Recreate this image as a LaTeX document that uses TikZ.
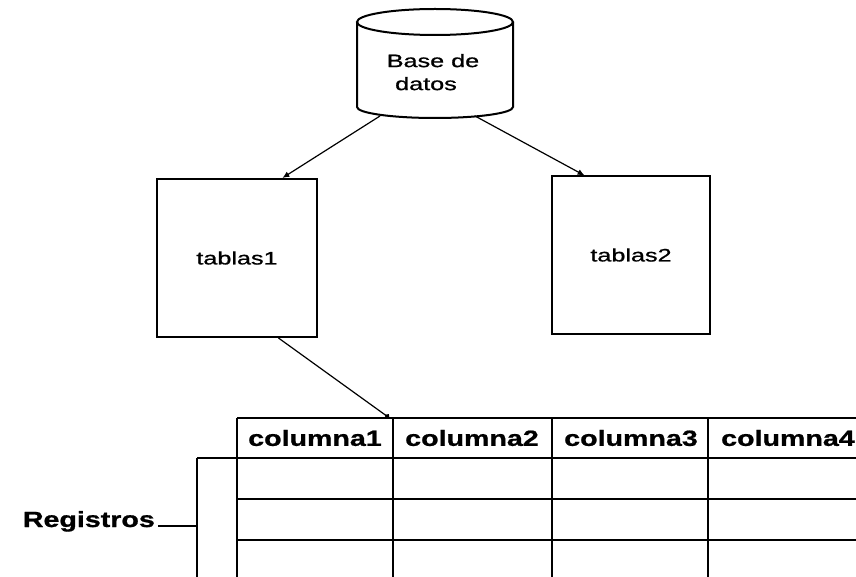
\documentclass[tikz,border=0pt]{standalone}
\usepackage{fontspec}
\setmainfont{Liberation Sans}
\newfontfamily\medfont[FakeBold=0.8]{Liberation Sans}
\newfontfamily\heavyfont[FakeBold=0.8]{Liberation Sans Bold}
\usetikzlibrary{arrows.meta,calc}
\newcommand{\wideR}[1]{\scalebox{1.4}[1]{\medfont #1}}
\newcommand{\wideB}[1]{\scalebox{1.3}[1]{\heavyfont #1}}
\begin{document}
\begin{tikzpicture}[x=1pt,y=-1pt,
  shapeline/.style={line width=2pt},
  box/.style={draw, line width=2pt, minimum width=160pt, minimum height=158pt, inner sep=0pt, font=\fontsize{18}{23}\selectfont},
  conn/.style={line width=1.2pt, -{Latex[length=7pt,width=6pt]}},
  dotconn/.style={line width=1.2pt, -{Circle[length=5pt]}},
  gridline/.style={line width=2pt},
  head/.style={font=\fontsize{22}{26}\selectfont, inner sep=0pt},
  plain/.style={font=\fontsize{18}{23}\selectfont, inner sep=0pt},
]
\clip (0,0) rectangle (856,577);
\fill[white] (0,0) rectangle (856,577);
% database cylinder
\draw[shapeline] (357,22) -- (357,107) arc[start angle=180, end angle=0, x radius=78, y radius=11] -- (513,22);
\draw[shapeline] (435,22) ellipse [x radius=78, y radius=13];
\node[plain, align=left] (db) at (433,74) {\wideR{\begin{tabular}{@{}l@{}}Base de\\\hspace*{6pt}datos\end{tabular}}};
\coordinate (dbL) at (380,116);
\coordinate (dbR) at (475,116);
% tables
\node[box] (t1) at (237,258) {\wideR{tablas1}};
\node[box, minimum width=158pt, minimum height=157pt] (t2) at (631,255) {\wideR{tablas2}};
\draw[conn] (dbL) -- ($(t1.north west)!0.78!(t1.north east)$);
\draw[conn] (dbR) -- ($(t2.north west)!0.21!(t2.north east)$);
% table grid
\draw[gridline] (237,418) -- (860,418);
\draw[gridline] (197,458) -- (860,458);
\draw[gridline] (237,499) -- (860,499);
\draw[gridline] (237,540) -- (860,540);
\foreach \xx in {237,393,552,708} \draw[gridline] (\xx,418) -- (\xx,580);
\draw[gridline] (197,458) -- (197,580);
% headers
\node[head, minimum width=156pt, minimum height=40pt] (c1) at (315,438) {\wideB{columna1}};
\node[head] (c2) at (472,438) {\wideB{columna2}};
\node[head] (c3) at (631,438) {\wideB{columna3}};
\node[head, anchor=west] (c4) at (721,438) {\wideB{columna4}};
\draw[dotconn] ($(t1.south west)!0.756!(t1.south east)$) -- ($(c1.north east)+(-4,0)$);
% registros
\node[head, anchor=base east] (reg) at (155,527) {\wideB{Registros}};
\draw[line width=1.6pt] (reg.base east) ++(3,-1) coordinate (regA) -- (197,526);
\end{tikzpicture}
\end{document}
